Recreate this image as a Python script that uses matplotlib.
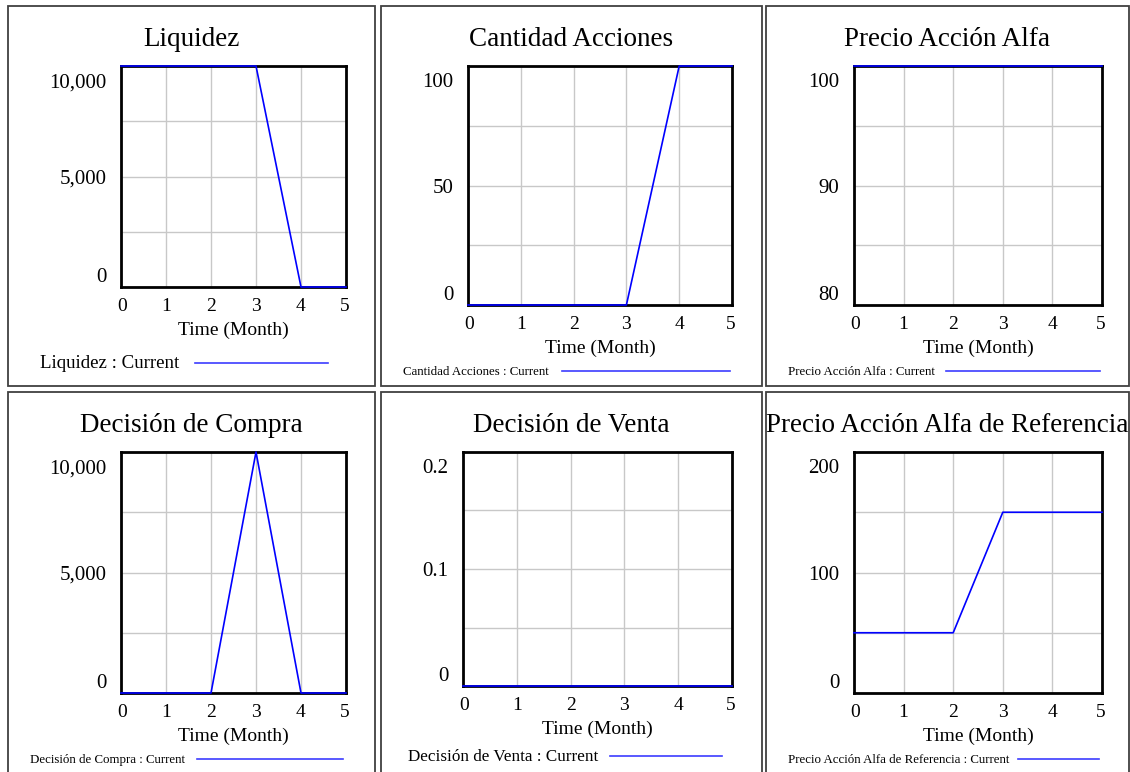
import matplotlib
matplotlib.use('Agg')
import matplotlib.pyplot as plt
from matplotlib.patches import Rectangle
from matplotlib.lines import Line2D

plt.rcParams['font.family'] = ['Liberation Serif', 'DejaVu Serif']

W, H = 1130, 772

time = [0, 1, 2, 3, 4, 5]

liquidez = [10000, 10000, 10000, 10000, 0, 0]
cantidad_acciones = [0, 0, 0, 0, 100, 100]
precio_accion_alfa = [100, 100, 100, 100, 100, 100]
decision_compra = [0, 0, 0, 10000, 0, 0]
decision_venta = [0, 0, 0, 0, 0, 0]
precio_referencia = [50, 50, 50, 150, 150, 150]

titles = ['Liquidez', 'Cantidad Acciones', 'Precio Acción Alfa',
          'Decisión de Compra', 'Decisión de Venta', 'Precio Acción Alfa de Referencia']
series = [liquidez, cantidad_acciones, precio_accion_alfa,
          decision_compra, decision_venta, precio_referencia]
y_ranges = [(0, 10000), (0, 100), (80, 100), (0, 10000), (0, 0.2), (0, 200)]
y_labels = [['0', '5,000', '10,000'], ['0', '50', '100'], ['80', '90', '100'],
            ['0', '5,000', '10,000'], ['0', '0.1', '0.2'], ['0', '100', '200']]

# layout in pixels: panel box (x0, y0, x1, y1), axes box (x0, y0, x1, y1)
panels = [(8, 6, 375, 386), (381, 6, 762, 386), (766, 6, 1129, 386),
          (8, 392, 375, 780), (381, 392, 762, 780), (766, 392, 1129, 780)]
axes_px = [(121, 66, 346, 287), (468, 66, 732, 305), (854, 66, 1102, 305),
           (121, 452, 346, 693), (463, 452, 732, 686), (854, 452, 1102, 693)]
# legend: text x, y, font size, line x0, x1
legends = [(40, 363, 13.6, 195, 328), (403, 371, 9.3, 562, 730), (788, 371, 9.3, 946, 1100),
           (30, 759, 9.3, 197, 343), (408, 756, 12.3, 610, 722), (788, 759, 9.3, 1018, 1099)]

fig = plt.figure(figsize=(W / 100, H / 100), dpi=100)


def fx(x):
    return x / W


def fy(y):
    return 1 - y / H


for i in range(6):
    px0, py0, px1, py1 = panels[i]
    fig.add_artist(Rectangle((fx(px0), fy(py1)), fx(px1 - px0), (py1 - py0) / H,
                             transform=fig.transFigure, fill=False,
                             edgecolor='#404040', linewidth=1.3))

    ax0, ay0, ax1, ay1 = axes_px[i]
    ax = fig.add_axes([fx(ax0), fy(ay1), fx(ax1 - ax0), (ay1 - ay0) / H])
    lo, hi = y_ranges[i]
    ax.plot(time, series[i], color='#0000ff', linewidth=1.2, clip_on=False, zorder=5)
    ax.set_xlim(0, 5)
    ax.set_ylim(lo, hi)
    ax.set_xticks(time)
    ax.set_yticks([lo + (hi - lo) * k / 4 for k in range(5)])
    ax.grid(True, color='#c8c8c8', linewidth=1)
    ax.tick_params(length=0, labelleft=False, labelbottom=False)
    for s in ax.spines.values():
        s.set_linewidth(2)
        s.set_color('black')
        s.set_zorder(4)

    # x tick labels
    for t in time:
        dx = 0.5 if t == 0 else (-1 if t == 5 else 0)
        ax.annotate(str(t), xy=(t, 0), xycoords=('data', 'axes fraction'),
                    xytext=(dx, -14), textcoords='offset points',
                    ha='center', va='center', fontsize=14)
    ax.annotate('Time (Month)', xy=(0.5, 0), xycoords='axes fraction',
                xytext=(0, -31.5), textcoords='offset points',
                ha='center', va='center', fontsize=14)

    # y tick labels, Vensim style (top shifted down, bottom shifted up)
    for k, lab in enumerate(y_labels[i]):
        val = lo + (hi - lo) * k / 2
        dy = [7, -2, -12][k]
        ax.annotate(lab, xy=(0, val), xycoords=('axes fraction', 'data'),
                    xytext=(-10.5, dy), textcoords='offset points',
                    ha='right', va='center', fontsize=15)

    fig.text(fx((px0 + px1) / 2), fy(py0 + 34), titles[i],
             ha='center', va='center', fontsize=19.5)

    tx, ty, fs, lx0, lx1 = legends[i]
    fig.text(fx(tx), fy(ty + 1), titles[i] + ' : Current', ha='left', va='center', fontsize=fs)
    fig.add_artist(Line2D([fx(lx0), fx(lx1)], [fy(ty), fy(ty)], transform=fig.transFigure,
                          color='#3c3cff', linewidth=1.2))

fig.savefig('out.png', dpi=100)
